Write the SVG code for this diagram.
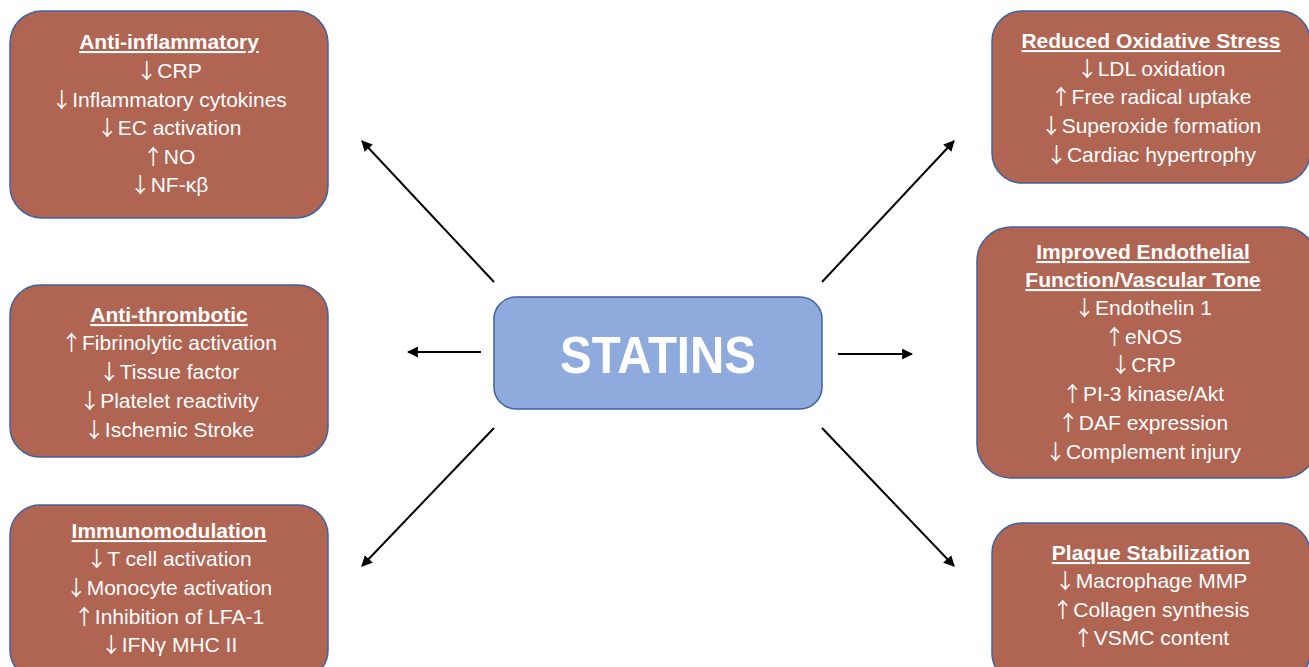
<svg xmlns="http://www.w3.org/2000/svg" width="1309" height="667" viewBox="0 0 1309 667">
<defs>
<style>
.box{fill:#B06452;stroke:#3F62A0;stroke-width:1.5}
.main{fill:#8FAADC;stroke:#3F62A0;stroke-width:1.5}
text{font-family:"Liberation Sans",Arial,sans-serif;fill:#ffffff;text-anchor:middle}
.t{font-size:21px;font-weight:bold;text-decoration:underline}
.l{font-size:21px}
.a{font-family:"Noto Sans CJK JP",sans-serif;font-weight:normal}
.big{font-size:52px;font-weight:bold}
.con line{stroke:#000;stroke-width:2;marker-end:url(#ah)}
</style>
<marker id="ah" viewBox="0 0 10 10" refX="9" refY="5" markerWidth="5.5" markerHeight="5.5" orient="auto" markerUnits="strokeWidth">
<path d="M0,0 L10,5 L0,10 z" fill="#000"/>
</marker>
</defs>
<rect width="1309" height="667" fill="#ffffff"/>
<g id="connectors" class="con">
<line x1="494" y1="282" x2="362" y2="141"/>
<line x1="481" y1="352" x2="408" y2="352"/>
<line x1="494" y1="428" x2="362" y2="566"/>
<line x1="822" y1="282" x2="954" y2="141"/>
<line x1="838" y1="354" x2="912" y2="354"/>
<line x1="822" y1="428" x2="954" y2="566"/>
</g>
<g id="statins">
<rect class="main" x="494" y="297" width="328" height="112" rx="22"/>
<text class="big" x="658" y="373" textLength="196" lengthAdjust="spacingAndGlyphs">STATINS</text>
</g>
<g id="anti-inflammatory">
<rect class="box" x="10" y="11" width="318" height="207" rx="32"/>
<text class="t" x="169" y="49">Anti-inflammatory</text>
<text class="l" x="169" y="78"><tspan class="a">↓</tspan>CRP</text>
<text class="l" x="169" y="107"><tspan class="a">↓</tspan>Inflammatory cytokines</text>
<text class="l" x="169" y="135"><tspan class="a">↓</tspan>EC activation</text>
<text class="l" x="169" y="164"><tspan class="a">↑</tspan>NO</text>
<text class="l" x="169" y="192"><tspan class="a">↓</tspan>NF-κβ</text>
</g>
<g id="anti-thrombotic">
<rect class="box" x="10" y="285" width="318" height="172" rx="30"/>
<text class="t" x="169" y="322">Anti-thrombotic</text>
<text class="l" x="169" y="350"><tspan class="a">↑</tspan>Fibrinolytic activation</text>
<text class="l" x="169" y="379"><tspan class="a">↓</tspan>Tissue factor</text>
<text class="l" x="169" y="408"><tspan class="a">↓</tspan>Platelet reactivity</text>
<text class="l" x="169" y="437"><tspan class="a">↓</tspan>Ischemic Stroke</text>
</g>
<g id="immunomodulation">
<rect class="box" x="10" y="505" width="318" height="175" rx="30"/>
<text class="t" x="169" y="538">Immunomodulation</text>
<text class="l" x="169" y="566"><tspan class="a">↓</tspan>T cell activation</text>
<text class="l" x="169" y="595"><tspan class="a">↓</tspan>Monocyte activation</text>
<text class="l" x="169" y="624"><tspan class="a">↑</tspan>Inhibition of LFA-1</text>
<text class="l" x="169" y="652"><tspan class="a">↓</tspan>IFNγ MHC II</text>
</g>
<g id="oxidative-stress">
<rect class="box" x="992" y="11" width="318" height="172" rx="30"/>
<text class="t" x="1151" y="48">Reduced Oxidative Stress</text>
<text class="l" x="1151" y="76"><tspan class="a">↓</tspan>LDL oxidation</text>
<text class="l" x="1151" y="104"><tspan class="a">↑</tspan>Free radical uptake</text>
<text class="l" x="1151" y="133"><tspan class="a">↓</tspan>Superoxide formation</text>
<text class="l" x="1151" y="162"><tspan class="a">↓</tspan>Cardiac hypertrophy</text>
</g>
<g id="endothelial">
<rect class="box" x="977" y="227" width="340" height="251" rx="34"/>
<text class="t" x="1143" y="259">Improved Endothelial</text>
<text class="t" x="1143" y="287">Function/Vascular Tone</text>
<text class="l" x="1143" y="315"><tspan class="a">↓</tspan>Endothelin 1</text>
<text class="l" x="1143" y="344"><tspan class="a">↑</tspan>eNOS</text>
<text class="l" x="1143" y="372"><tspan class="a">↓</tspan>CRP</text>
<text class="l" x="1143" y="401"><tspan class="a">↑</tspan>PI-3 kinase/Akt</text>
<text class="l" x="1143" y="430"><tspan class="a">↑</tspan>DAF expression</text>
<text class="l" x="1143" y="459"><tspan class="a">↓</tspan>Complement injury</text>
</g>
<g id="plaque">
<rect class="box" x="992" y="523" width="318" height="160" rx="30"/>
<text class="t" x="1151" y="560">Plaque Stabilization</text>
<text class="l" x="1151" y="588"><tspan class="a">↓</tspan>Macrophage MMP</text>
<text class="l" x="1151" y="617"><tspan class="a">↑</tspan>Collagen synthesis</text>
<text class="l" x="1151" y="645"><tspan class="a">↑</tspan>VSMC content</text>
</g>
</svg>
